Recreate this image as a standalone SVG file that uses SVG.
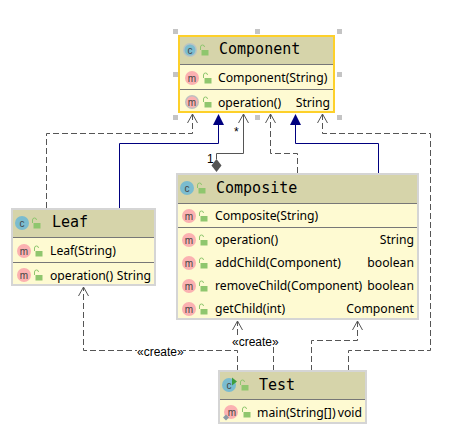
<svg xmlns="http://www.w3.org/2000/svg" width="449" height="435" viewBox="0 0 449 435">
<style>
.box{fill:#fefad2;stroke:#d5d5d5;stroke-width:2}
.sel{fill:#fefad2;stroke:#fdd02a;stroke-width:2}
.hd{fill:#d6d4aa}
.sep{stroke:#777;stroke-width:1;fill:none}
.name{font-family:"DejaVu Sans Mono",monospace;font-size:15px;fill:#000}
.t{font-family:"Noto Sans","Liberation Sans",sans-serif;font-size:12.2px;fill:#000}
.r{text-anchor:end}
.l{font-family:"Liberation Sans",sans-serif;font-size:12px;fill:#000}
.ic{font-family:"Liberation Sans",sans-serif;font-size:10px;fill:#444;text-anchor:middle}
.cc{fill:#7bbccf}.mm{fill:#fbb1b1}
.lk{fill:#8fc66e}
.lo{fill:none;stroke:#8fc66e;stroke-width:1}
.h{fill:#c4c4c4}
.dash{fill:none;stroke:#555;stroke-width:1;stroke-dasharray:6 3}
.solid{fill:none;stroke:#555;stroke-width:1}
.blue{fill:none;stroke:#00007f;stroke-width:1}
.tri{fill:#00007f}
.open{fill:none;stroke:#555;stroke-width:1}
</style>
<defs>
<g id="lock"><path class="lo" d="M-3.5 0v-3a2 2 0 0 1 4 0"/><rect class="lk" x="-2.5" y="0" width="7" height="5.5"/></g>
<g id="arr"><path class="open" d="M-5 9L0 0L5 9"/></g>
<path id="tr" class="tri" d="M0 0L5.500 11H-5.500Z"/>
</defs>
<g id="handles">
<rect class="h" x="173" y="29" width="5" height="5"/><rect class="h" x="255" y="29" width="5" height="5"/><rect class="h" x="337" y="29" width="5" height="5"/>
<rect class="h" x="173" y="72" width="5" height="5"/><rect class="h" x="337" y="72" width="5" height="5"/>
<rect class="h" x="173" y="115" width="5" height="5"/><rect class="h" x="255" y="115" width="5" height="5"/><rect class="h" x="337" y="115" width="5" height="5"/>
</g>
<g id="connectors">
<path class="dash" d="M46.500 208V133.500H192.500V114"/><use href="#arr" x="192.500" y="114"/>
<path class="blue" d="M119.500 208V143.500H218.500V125"/><use href="#tr" x="218.500" y="114"/>
<path class="solid" d="M216.500 159V153.500H243.500V114"/><use href="#arr" x="243.500" y="114"/>
<path d="M216.500 159L221.500 165.500L216.500 172L211.500 165.500Z" fill="#555"/>
<path class="dash" d="M297.500 173V153.500H270.500V114"/><use href="#arr" x="270.500" y="114"/>
<path class="blue" d="M378.500 173V143.500H295.500V125"/><use href="#tr" x="295.500" y="114"/>
<path class="dash" d="M348.500 371V350.500H430.500V133.500H322.500V114"/><use href="#arr" x="322.500" y="114"/>
<path class="dash" d="M311.500 371V340.500H357.500V321"/><use href="#arr" x="357.500" y="321"/>
<path class="dash" d="M273.500 371V342.500H237.500V321"/><use href="#arr" x="237.500" y="321"/>
<path class="dash" d="M237.500 371V350.500H83.500V287"/><use href="#arr" x="83.500" y="287"/>
<text class="l" x="234" y="136">*</text>
<text class="l" x="207" y="163">1</text>
<rect x="232" y="336" width="46" height="11" fill="#fff"/>
<text class="l" x="232" y="346">«create»</text>
<rect x="137" y="346" width="46" height="9" fill="#fff"/>
<text class="l" x="137" y="356">«create»</text>
</g>
<g id="component">
<rect class="sel" x="179" y="36" width="155" height="76"/>
<rect class="hd" x="180" y="37" width="153" height="27"/>
<path class="sep" d="M180 64.500H333M180 89.500H333"/>
<circle cx="190" cy="50" r="7" fill="#b9c4c4"/><circle class="cc" cx="190" cy="50" r="5.500"/><text class="ic" x="190" y="53.500">c</text>
<use href="#lock" x="204" y="50"/>
<text class="name" x="219" y="54">Component</text>
<circle class="mm" cx="192" cy="78" r="7"/><text class="ic" x="192" y="81.500">m</text>
<use href="#lock" x="207" y="78"/>
<text class="t" x="218" y="82">Component(String)</text>
<circle cx="192" cy="102" r="7" fill="#c0c0c0"/><circle class="mm" cx="192" cy="102" r="5.500"/><text class="ic" x="192" y="105.500">m</text>
<use href="#lock" x="207" y="102"/>
<text class="t" x="218" y="107">operation()</text>
<text class="t r" x="330" y="107">String</text>
</g>
<g id="leaf">
<rect class="box" x="12" y="209" width="143" height="76"/>
<rect class="hd" x="13" y="210" width="141" height="27"/>
<path class="sep" d="M13 237.500H154M13 262.500H154"/>
<circle class="cc" cx="22" cy="223" r="7"/><text class="ic" x="22" y="226.500">c</text>
<use href="#lock" x="36" y="223"/>
<text class="name" x="52" y="227">Leaf</text>
<circle class="mm" cx="24" cy="251" r="7"/><text class="ic" x="24" y="254.500">m</text>
<use href="#lock" x="38" y="251"/>
<text class="t" x="50" y="255">Leaf(String)</text>
<circle class="mm" cx="24" cy="275" r="7"/><text class="ic" x="24" y="278.500">m</text>
<use href="#lock" x="38" y="275"/>
<text class="t" x="50" y="280">operation()</text>
<text class="t r" x="151" y="280">String</text>
</g>
<g id="composite">
<rect class="box" x="177" y="174" width="241" height="145"/>
<rect class="hd" x="178" y="175" width="239" height="28"/>
<path class="sep" d="M178 203.500H417M178 227.500H417"/>
<circle class="cc" cx="187" cy="188" r="7"/><text class="ic" x="187" y="191.500">c</text>
<use href="#lock" x="201" y="188"/>
<text class="name" x="216" y="193">Composite</text>
<circle class="mm" cx="189" cy="216" r="7"/><text class="ic" x="189" y="219.500">m</text>
<use href="#lock" x="203" y="216"/>
<text class="t" x="215" y="220">Composite(String)</text>
<circle class="mm" cx="189" cy="240" r="7"/><text class="ic" x="189" y="243.500">m</text>
<use href="#lock" x="203" y="240"/>
<text class="t" x="215" y="244">operation()</text>
<text class="t r" x="414" y="244">String</text>
<circle class="mm" cx="189" cy="263" r="7"/><text class="ic" x="189" y="266.500">m</text>
<use href="#lock" x="203" y="263"/>
<text class="t" x="215" y="267">addChild(Component)</text>
<text class="t r" x="414" y="267">boolean</text>
<circle class="mm" cx="189" cy="286" r="7"/><text class="ic" x="189" y="289.500">m</text>
<use href="#lock" x="203" y="286"/>
<text class="t" x="215" y="290">removeChild(Component)</text>
<text class="t r" x="414" y="290">boolean</text>
<circle class="mm" cx="189" cy="309" r="7"/><text class="ic" x="189" y="312.500">m</text>
<use href="#lock" x="203" y="309"/>
<text class="t" x="215" y="313">getChild(int)</text>
<text class="t r" x="414" y="313">Component</text>
</g>
<g id="test">
<rect class="box" x="219" y="371" width="147" height="52"/>
<rect class="hd" x="220" y="372" width="145" height="27"/>
<path class="sep" d="M220 399.500H365"/>
<circle class="cc" cx="229" cy="385" r="7"/><text class="ic" x="229" y="388.500">c</text>
<path d="M232 377.500L237 381.500L232 385.500Z" fill="#3f9e3f"/>
<use href="#lock" x="244" y="385"/>
<text class="name" x="259" y="390">Test</text>
<circle class="mm" cx="231" cy="412" r="7"/><text class="ic" x="232" y="415.500">m</text>
<path d="M226 414.500L229 417.500L226 420.500L223 417.500Z" fill="#8a9aa5"/>
<use href="#lock" x="246" y="412"/>
<text class="t" x="257" y="417">main(String[])</text>
<text class="t r" x="362" y="417">void</text>
</g>
</svg>
